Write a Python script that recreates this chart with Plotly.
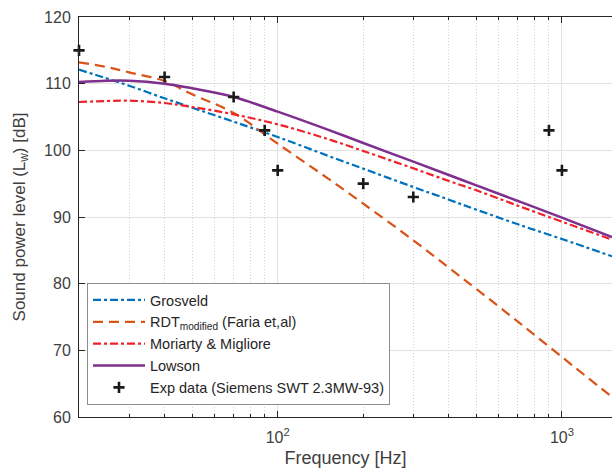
import plotly.graph_objects as go

# Frequencies (Hz) at which the model curves were read
freq = [20, 25, 30, 40, 50, 70, 100, 150, 200, 300, 400, 500, 700, 1000, 1500]

grosveld = [112.1, 110.8, 109.7, 107.8, 106.4, 104.3, 102.0, 99.2, 97.25, 94.5, 92.6, 91.1, 88.9, 86.7, 84.1]
rdt_mod = [113.2, 112.5, 111.7, 110.4, 108.4, 105.6, 101.0, 95.8, 92.0, 86.5, 82.4, 79.2, 74.3, 69.0, 63.0]
moriarty = [107.25, 107.4, 107.45, 107.1, 106.5, 105.4, 103.9, 101.7, 99.9, 97.3, 95.4, 94.0, 91.7, 89.3, 86.6]
lowson = [110.25, 110.45, 110.45, 110.0, 109.3, 108.0, 105.8, 103.1, 101.1, 98.3, 96.3, 94.75, 92.4, 89.9, 87.0]

exp_freq = [20, 40, 70, 90, 100, 200, 300, 900, 1000]
exp_lw = [115, 111, 108, 103, 97, 95, 93, 103, 97]

x_major = [100, 1000]
x_major_text = ["10<sup>2</sup>", "10<sup>3</sup>"]
x_minor = [20, 30, 40, 50, 60, 70, 80, 90, 200, 300, 400, 500, 600, 700, 800, 900]
y_ticks = [60, 70, 80, 90, 100, 110, 120]

font_family = "Liberation Sans, Arial, sans-serif"
text_col = "#404040"

fig = go.Figure()
fig.add_trace(go.Scatter(x=freq, y=grosveld, mode="lines", name="Grosveld",
                         line=dict(color="#0072BD", width=2.2, dash="8px,3px,3px,3px", shape="spline")))
fig.add_trace(go.Scatter(x=freq, y=rdt_mod, mode="lines", name="RDT<sub>modified</sub> (Faria et,al)",
                         line=dict(color="#D95319", width=2.2, dash="10px,6px", shape="spline")))
fig.add_trace(go.Scatter(x=freq, y=moriarty, mode="lines", name="Moriarty & Migliore",
                         line=dict(color="#EE2228", width=2.2, dash="8px,3px,3px,3px", shape="spline")))
fig.add_trace(go.Scatter(x=freq, y=lowson, mode="lines", name="Lowson",
                         line=dict(color="#7E2F8E", width=2.5, shape="spline")))
fig.add_trace(go.Scatter(x=exp_freq, y=exp_lw, mode="markers", name="Exp data (Siemens SWT 2.3MW-93)",
                         cliponaxis=False,
                         marker=dict(symbol="cross-thin", size=8, line=dict(color="#1a1a1a", width=2.6))))

fig.update_layout(
    width=612, height=470,
    margin=dict(l=79, r=0, t=17, b=53),
    paper_bgcolor="white", plot_bgcolor="white",
    font=dict(family=font_family, size=15, color=text_col),
    showlegend=True,
    legend=dict(x=0.015, y=0.03, xanchor="left", yanchor="bottom",
                bgcolor="white", bordercolor="#8c8c8c", borderwidth=1,
                font=dict(size=14.5, color="#262626"), tracegroupgap=0, itemwidth=52),
)

fig.update_xaxes(
    type="log", range=[1.30099, 3.1761],
    tickmode="array", tickvals=x_major, ticktext=x_major_text,
    ticks="inside", ticklen=6, tickcolor="#262626", ticklabelstandoff=6,
    showline=True, linecolor="#262626", linewidth=1, mirror="ticks",
    showgrid=True, gridcolor="#e3e3e3", gridwidth=1,
    minor=dict(tickmode="array", tickvals=x_minor, ticks="inside", ticklen=3,
               tickcolor="#262626", showgrid=True, gridcolor="#d4d4d4", griddash="1px,2px", gridwidth=1),
    title=dict(text="Frequency [Hz]", font=dict(size=18, color=text_col), standoff=6),
    tickfont=dict(size=16, color=text_col),
    zeroline=False,
)
fig.update_yaxes(
    range=[60, 120], tickmode="array", tickvals=y_ticks,
    ticks="inside", ticklen=6, tickcolor="#262626", ticklabelstandoff=4,
    showline=True, linecolor="#262626", linewidth=1, mirror=False,
    showgrid=True, gridcolor="#e3e3e3", gridwidth=1,
    title=dict(text="Sound power level (L<sub>w</sub>) [dB]", font=dict(size=17, color=text_col), standoff=14),
    tickfont=dict(size=16, color=text_col),
    zeroline=False,
)

fig.write_html("out.html")
